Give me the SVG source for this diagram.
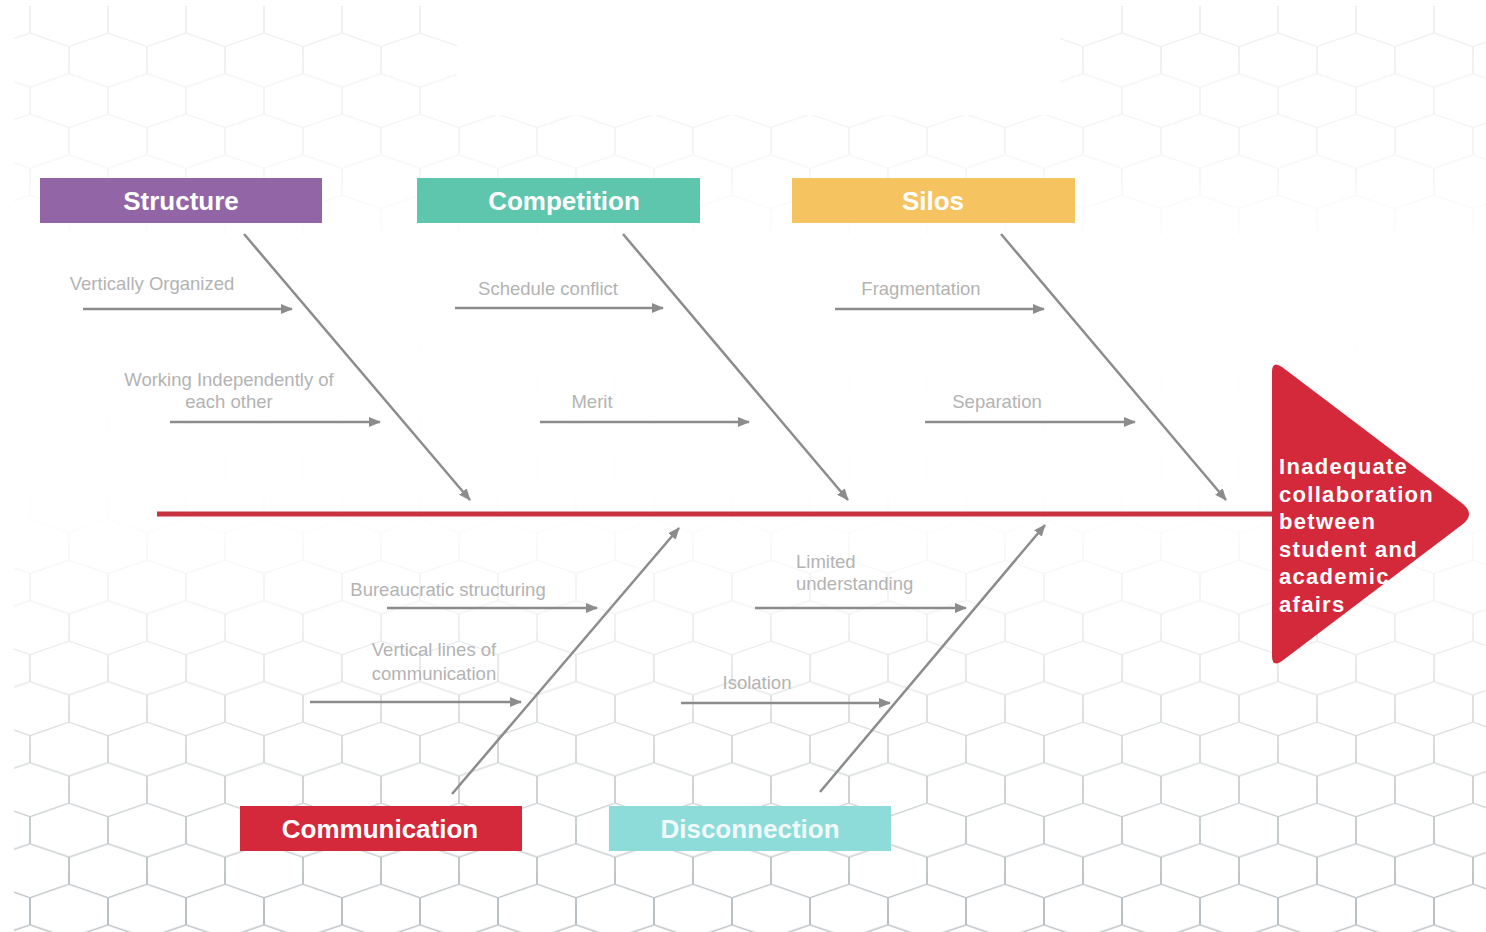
<svg xmlns="http://www.w3.org/2000/svg" width="1486" height="932" viewBox="0 0 1486 932">
<defs>
<pattern id="hex" patternUnits="userSpaceOnUse" width="78" height="135.1" patternTransform="translate(30,560) scale(1,0.6)">
<path d="M39,0 L78,22.5 L78,67.5 L39,90 L0,67.5 L0,22.5 Z M39,90 L39,135.1" fill="none" stroke="#a9b1b5" stroke-width="2"/>
</pattern>
<linearGradient id="fade" x1="0" y1="0" x2="0" y2="1">
<stop offset="0" stop-color="#fff" stop-opacity="0.2"/>
<stop offset="0.17" stop-color="#fff" stop-opacity="0.12"/>
<stop offset="0.27" stop-color="#fff" stop-opacity="0.0"/>
<stop offset="0.55" stop-color="#fff" stop-opacity="0.02"/>
<stop offset="0.7" stop-color="#fff" stop-opacity="0.25"/>
<stop offset="0.84" stop-color="#fff" stop-opacity="0.55"/>
<stop offset="1" stop-color="#fff" stop-opacity="0.85"/>
</linearGradient>
<mask id="m" maskUnits="userSpaceOnUse" x="0" y="0" width="1486" height="932">
<rect x="14" y="6" width="1472" height="926" fill="url(#fade)"/>
</mask>
<marker id="ah" viewBox="0 0 12 10" refX="11" refY="5" markerWidth="12" markerHeight="10" markerUnits="userSpaceOnUse" orient="auto">
<path d="M0,0 L12,5 L0,10 Z" fill="#8c8c8c"/>
</marker>
</defs>
<style>
.cat{font-family:"Liberation Sans",Arial,sans-serif;font-weight:bold;font-size:26px;fill:#fff;text-anchor:middle}
.lbl{font-family:"Liberation Sans",Arial,sans-serif;font-size:18.5px;fill:#b3b3b3;text-anchor:middle}
.lft{text-anchor:start}
.bone{stroke:#8c8c8c;stroke-width:2.5;fill:none;marker-end:url(#ah)}
.head{font-family:"Liberation Sans",Arial,sans-serif;font-weight:bold;font-size:22px;fill:#fff;letter-spacing:1.3px}
</style>
<rect width="1486" height="932" fill="#fff"/>
<g id="background">
<rect x="14" y="6" width="1472" height="926" fill="url(#hex)" mask="url(#m)"/>
<rect x="457" y="5" width="603" height="110" fill="#fff"/>
</g>
<g id="connectors">
<line x1="157" y1="514" x2="1280" y2="514" stroke="#c8323f" stroke-width="5"/>
<line class="bone" x1="244" y1="234" x2="470" y2="500"/>
<line class="bone" x1="623" y1="234" x2="848" y2="500"/>
<line class="bone" x1="1001" y1="234" x2="1226" y2="500"/>
<line class="bone" x1="452" y1="794" x2="679" y2="528"/>
<line class="bone" x1="820" y1="792" x2="1045" y2="525"/>
<line class="bone" x1="83" y1="309" x2="292" y2="309"/>
<line class="bone" x1="170" y1="422" x2="380" y2="422"/>
<line class="bone" x1="455" y1="308" x2="663" y2="308"/>
<line class="bone" x1="540" y1="422" x2="749" y2="422"/>
<line class="bone" x1="835" y1="309" x2="1044" y2="309"/>
<line class="bone" x1="925" y1="422" x2="1135" y2="422"/>
<line class="bone" x1="387" y1="608" x2="597" y2="608"/>
<line class="bone" x1="310" y1="702" x2="521" y2="702"/>
<line class="bone" x1="755" y1="608" x2="966" y2="608"/>
<line class="bone" x1="681" y1="703" x2="890" y2="703"/>
</g>
<g id="labels">
<text class="lbl" x="152" y="290">Vertically Organized</text>
<text class="lbl" x="229" y="386">Working Independently of</text>
<text class="lbl" x="229" y="408">each other</text>
<text class="lbl" x="548" y="295">Schedule conflict</text>
<text class="lbl" x="592" y="408">Merit</text>
<text class="lbl" x="921" y="295">Fragmentation</text>
<text class="lbl" x="997" y="408">Separation</text>
<text class="lbl" x="448" y="596">Bureaucratic structuring</text>
<text class="lbl" x="434" y="656">Vertical lines of</text>
<text class="lbl" x="434" y="680">communication</text>
<text class="lbl lft" x="796" y="568">Limited</text>
<text class="lbl lft" x="796" y="590">understanding</text>
<text class="lbl" x="757" y="689">Isolation</text>
</g>
<g id="structure">
<rect x="40" y="178" width="282" height="45" fill="#9266a6"/>
<text class="cat" x="181" y="210">Structure</text>
</g>
<g id="competition">
<rect x="417" y="178" width="283" height="45" fill="#5fc6ae"/>
<text class="cat" x="564" y="210">Competition</text>
</g>
<g id="silos">
<rect x="792" y="178" width="283" height="45" fill="#f5c35f"/>
<text class="cat" x="933" y="210">Silos</text>
</g>
<g id="communication">
<rect x="240" y="806" width="282" height="45" fill="#d4293a"/>
<text class="cat" x="380" y="838">Communication</text>
</g>
<g id="disconnection">
<rect x="609" y="806" width="282" height="45" fill="#8edcda"/>
<text class="cat" x="750" y="838" fill-opacity="0.9">Disconnection</text>
</g>
<g id="effect">
<path d="M1272,372 Q1272,360 1282,367 L1463,504 Q1475,514 1463,524 L1282,661 Q1272,668 1272,656 Z" fill="#d4293a"/>
<text class="head" x="1279" y="474">Inadequate</text>
<text class="head" x="1279" y="502">collaboration</text>
<text class="head" x="1279" y="529">between</text>
<text class="head" x="1279" y="557">student and</text>
<text class="head" x="1279" y="584">academic</text>
<text class="head" x="1279" y="612">afairs</text>
</g>
</svg>
